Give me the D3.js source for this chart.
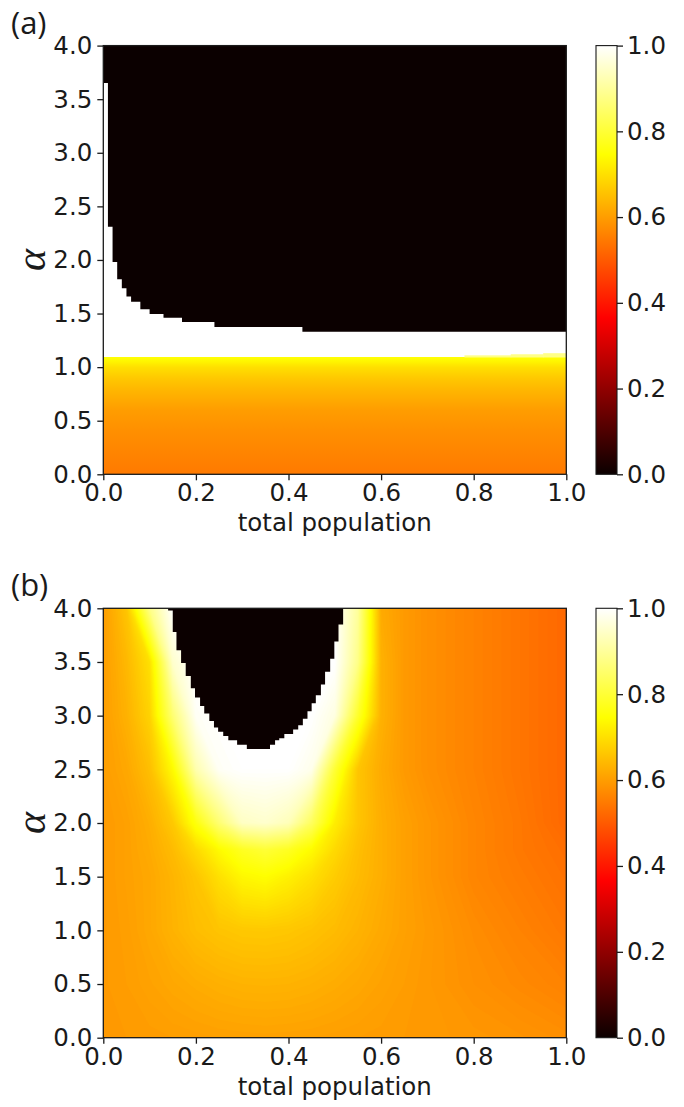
<!DOCTYPE html>
<html>
<head>
<meta charset="utf-8">
<script src="https://cdn.jsdelivr.net/npm/d3@7"></script>
<style>
  body { margin: 0; background: #fff; }
  svg text { font-family: "DejaVu Sans", sans-serif; fill: #1a1a1a; }
</style>
</head>
<body>
<div id="graph"></div>
<script>
// ---- values ----

// tick labels
var xTicks = [0, 0.2, 0.4, 0.6, 0.8, 1.0];
var alphaTicks = [0, 0.5, 1.0, 1.5, 2.0, 2.5, 3.0, 3.5, 4.0];
var barTicks = [0, 0.2, 0.4, 0.6, 0.8, 1.0];

// panel (a): value under the white band, by alpha (same for every x)
var aProfileAlpha = [0, 0.2, 0.4, 0.6, 0.8, 0.9, 1.0, 1.05, 1.09];
var aProfileValue = [0.548, 0.562, 0.578, 0.600, 0.640, 0.665, 0.700, 0.730, 0.750];
var aWhiteFrom = 1.095;             // value 1 from here up to the black region
// pale step under the white band on the right
var aPaleX = [0.78, 0.88, 0.95];    // step starts, last one runs to x = 1
var aPaleTop = [1.11, 1.12, 1.13];
var aPaleValue = 0.88;
// black region (value 0): column starts and the alpha where black begins
var aBlackX    = [0, 0.01, 0.02, 0.03, 0.04, 0.05, 0.06, 0.08, 0.10, 0.13, 0.17, 0.24, 0.43];
var aBlackFrom = [3.65, 2.31, 1.98, 1.82, 1.735, 1.66, 1.61, 1.54, 1.495, 1.46, 1.42, 1.375, 1.33];

// panel (b): value grid, columns at bX, one row per bAlpha
var bX     = [0, 0.05, 0.1, 0.15, 0.2, 0.25, 0.3, 0.35, 0.4, 0.45, 0.5, 0.55, 0.6, 0.65, 0.7, 0.8, 0.9, 1.0];
var bAlpha = [0, 0.5, 1.0, 1.5, 1.75, 2.0, 2.5, 3.0, 3.5, 4.0];
var bValues = [
  [0.595, 0.596, 0.598, 0.600, 0.602, 0.604, 0.605, 0.606, 0.605, 0.604, 0.602, 0.600, 0.598, 0.596, 0.594, 0.590, 0.585, 0.578], // 0.0
  [0.595, 0.600, 0.607, 0.615, 0.622, 0.628, 0.632, 0.633, 0.632, 0.628, 0.622, 0.615, 0.607, 0.600, 0.593, 0.580, 0.570, 0.560], // 0.5
  [0.595, 0.602, 0.615, 0.632, 0.648, 0.658, 0.664, 0.665, 0.662, 0.655, 0.645, 0.632, 0.618, 0.605, 0.595, 0.575, 0.560, 0.545], // 1.0
  [0.595, 0.605, 0.615, 0.635, 0.660, 0.700, 0.735, 0.745, 0.725, 0.700, 0.670, 0.645, 0.625, 0.605, 0.590, 0.565, 0.550, 0.535], // 1.5
  [0.595, 0.605, 0.620, 0.645, 0.690, 0.740, 0.780, 0.800, 0.780, 0.740, 0.690, 0.650, 0.625, 0.605, 0.590, 0.565, 0.545, 0.530], // 1.75
  [0.595, 0.605, 0.625, 0.665, 0.760, 0.860, 0.940, 0.950, 0.930, 0.840, 0.720, 0.660, 0.625, 0.605, 0.590, 0.565, 0.545, 0.520], // 2.0
  [0.600, 0.615, 0.650, 0.740, 0.920, 0.990, 1.000, 1.000, 1.000, 0.980, 0.800, 0.660, 0.620, 0.595, 0.580, 0.560, 0.540, 0.520], // 2.5
  [0.600, 0.630, 0.680, 0.860, 0.990, 1.000, 1.000, 1.000, 1.000, 1.000, 0.970, 0.790, 0.630, 0.595, 0.580, 0.560, 0.540, 0.520], // 3.0
  [0.600, 0.640, 0.700, 0.950, 1.000, 1.000, 1.000, 1.000, 1.000, 1.000, 1.000, 0.880, 0.630, 0.595, 0.580, 0.560, 0.540, 0.520], // 3.5
  [0.600, 0.660, 0.880, 1.000, 1.000, 1.000, 1.000, 1.000, 1.000, 1.000, 1.000, 0.900, 0.620, 0.595, 0.580, 0.560, 0.540, 0.520]  // 4.0
];
// black hole (value 0): edge steps going down from alpha 4
var bLeftX    = [0.140, 0.150, 0.158, 0.168, 0.178, 0.189, 0.198, 0.209, 0.218, 0.229, 0.239, 0.248, 0.259, 0.270, 0.289, 0.310];
var bLeftLow  = [3.98, 3.78, 3.61, 3.49, 3.37, 3.255, 3.17, 3.09, 3.02, 2.95, 2.89, 2.85, 2.81, 2.77, 2.73, 2.69];
var bRightX   = [0.518, 0.508, 0.499, 0.490, 0.479, 0.470, 0.459, 0.450, 0.441, 0.431, 0.421, 0.410, 0.391, 0.380, 0.371, 0.360];
var bRightLow = [3.85, 3.69, 3.53, 3.41, 3.29, 3.19, 3.115, 3.04, 2.97, 2.91, 2.87, 2.83, 2.79, 2.77, 2.73, 2.69];

// ---- layout ----
var W = 684, H = 1107;
var plotLeft = 103.3, plotRight = 566.3;
var barLeft = 596, barRight = 617;
var panels = [
  {tag: "(a)", top: 45.6, bottom: 474.3},
  {tag: "(b)", top: 608.3, bottom: 1037.7}
];
var fontSize = 24.5;
var ink = "#1a1a1a";

// matplotlib "hot" colour map, built from linear scales
var hotR = d3.scaleLinear().domain([0, 0.365079, 1]).range([0.0416, 1, 1]).clamp(true);
var hotG = d3.scaleLinear().domain([0, 0.365079, 0.746032, 1]).range([0, 0, 1, 1]).clamp(true);
var hotB = d3.scaleLinear().domain([0, 0.746032, 1]).range([0, 0, 1]).clamp(true);
function hot(v) {
  return d3.rgb(hotR(v) * 255, hotG(v) * 255, hotB(v) * 255).formatHex();
}

var svg = d3.select("#graph").append("svg")
  .attr("width", W)
  .attr("height", H)
  .style("display", "block");
var defs = svg.append("defs");

var xs = d3.scaleLinear().domain([0, 1]).range([plotLeft, plotRight]);
var line = d3.line();

panels.forEach(function (p, k) {
  var ys = d3.scaleLinear().domain([0, 4]).range([p.bottom, p.top]);
  var g = svg.append("g");

  defs.append("clipPath").attr("id", "clip" + k)
    .append("rect")
      .attr("x", plotLeft).attr("y", p.top)
      .attr("width", plotRight - plotLeft).attr("height", p.bottom - p.top);
  var plot = g.append("g").attr("clip-path", "url(#clip" + k + ")");

  if (k === 0) {
    // alpha profile as a vertical gradient
    var grad = defs.append("linearGradient").attr("id", "aprof")
      .attr("gradientUnits", "userSpaceOnUse")
      .attr("x1", 0).attr("x2", 0)
      .attr("y1", ys(0)).attr("y2", ys(4));
    aProfileAlpha.forEach(function (a, i) {
      grad.append("stop").attr("offset", a / 4).attr("stop-color", hot(aProfileValue[i]));
    });
    grad.append("stop").attr("offset", aWhiteFrom / 4).attr("stop-color", hot(1));
    grad.append("stop").attr("offset", 1).attr("stop-color", hot(1));

    plot.append("rect")
      .attr("x", plotLeft).attr("y", p.top)
      .attr("width", plotRight - plotLeft).attr("height", p.bottom - p.top)
      .attr("fill", "url(#aprof)");

    // pale steps under the white band
    plot.selectAll("rect.pale")
      .data(aPaleX)
      .enter().append("rect")
        .attr("class", "pale")
        .attr("x", function (d) { return xs(d); })
        .attr("width", function (d, i) { return xs(i + 1 < aPaleX.length ? aPaleX[i + 1] : 1) - xs(d) + 0.5; })
        .attr("y", function (d, i) { return ys(aPaleTop[i]); })
        .attr("height", function (d, i) { return ys(aProfileAlpha[aProfileAlpha.length - 1]) - ys(aPaleTop[i]); })
        .attr("fill", hot(aPaleValue));

    // black region, a staircase
    var pts = [[0, 4]];
    aBlackX.forEach(function (x0, i) {
      var x1 = i + 1 < aBlackX.length ? aBlackX[i + 1] : 1;
      pts.push([x0, aBlackFrom[i]]);
      pts.push([x1, aBlackFrom[i]]);
    });
    pts.push([1, 4]);
    plot.append("path")
      .attr("d", line(pts.map(function (d) { return [xs(d[0]), ys(d[1])]; })) + "Z")
      .attr("fill", hot(0));
  } else {
    // smooth field from the grid, drawn as filled contour bands
    var nx = bX.length, ny = bAlpha.length;
    var flat = [];
    bValues.forEach(function (row) { row.forEach(function (v) { flat.push(v); }); });
    var step = 0.004;
    var thresholds = d3.range(0.5, 1.0001, step);
    var bands = d3.contours().size([nx, ny]).thresholds(thresholds)(flat);

    var gx = d3.scaleLinear().domain(bX.map(function (d, i) { return i + 0.5; })).range(bX);
    var gy = d3.scaleLinear().domain(bAlpha.map(function (d, i) { return i + 0.5; })).range(bAlpha);
    var proj = d3.geoTransform({
      point: function (x, y) { this.stream.point(xs(gx(x)), ys(gy(y))); }
    });
    var path = d3.geoPath(proj);

    plot.append("rect")
      .attr("x", plotLeft).attr("y", p.top)
      .attr("width", plotRight - plotLeft).attr("height", p.bottom - p.top)
      .attr("fill", hot(d3.min(flat)));
    plot.selectAll("path.band")
      .data(bands)
      .enter().append("path")
        .attr("class", "band")
        .attr("d", path)
        .attr("fill", function (d) { return hot(d.value + step / 2); });

    // black hole, staircase down the left edge and back up the right
    var hole = [[bLeftX[0], 4]];
    bLeftX.forEach(function (x, i) {
      hole.push([x, bLeftLow[i]]);
      if (i + 1 < bLeftX.length) hole.push([bLeftX[i + 1], bLeftLow[i]]);
    });
    for (var i = bRightX.length - 1; i >= 0; i--) {
      hole.push([bRightX[i], bRightLow[i]]);
      hole.push([bRightX[i], i > 0 ? bRightLow[i - 1] : 4]);
    }
    plot.append("path")
      .attr("d", line(hole.map(function (d) { return [xs(d[0]), ys(d[1])]; })) + "Z")
      .attr("fill", hot(0));
  }

  // frame
  g.append("rect")
    .attr("x", plotLeft).attr("y", p.top)
    .attr("width", plotRight - plotLeft).attr("height", p.bottom - p.top)
    .attr("fill", "none").attr("stroke", ink).attr("stroke-width", 1.3);

  // axes
  var xAxis = g.append("g")
    .attr("transform", "translate(0," + p.bottom + ")")
    .call(d3.axisBottom(xs).tickValues(xTicks).tickFormat(d3.format(".1f")).tickSize(6).tickPadding(3.5));
  var yAxis = g.append("g")
    .attr("transform", "translate(" + plotLeft + ",0)")
    .call(d3.axisLeft(ys).tickValues(alphaTicks).tickFormat(d3.format(".1f")).tickSize(6).tickPadding(5));

  // colour bar
  var cs = d3.scaleLinear().domain([0, 1]).range([p.bottom, p.top]);
  var cgrad = defs.append("linearGradient").attr("id", "cbar" + k)
    .attr("x1", 0).attr("x2", 0).attr("y1", 1).attr("y2", 0);
  [0, 0.365079, 0.746032, 1].forEach(function (t) {
    cgrad.append("stop").attr("offset", t).attr("stop-color", hot(t));
  });
  g.append("rect")
    .attr("x", barLeft).attr("y", p.top)
    .attr("width", barRight - barLeft).attr("height", p.bottom - p.top)
    .attr("fill", "url(#cbar" + k + ")")
    .attr("stroke", ink).attr("stroke-width", 1.1);
  var cAxis = g.append("g")
    .attr("transform", "translate(" + barRight + ",0)")
    .call(d3.axisRight(cs).tickValues(barTicks).tickFormat(d3.format(".1f")).tickSize(6).tickPadding(4));

  [xAxis, yAxis, cAxis].forEach(function (a) {
    a.select(".domain").remove();
    a.selectAll(".tick line").attr("stroke", ink).attr("stroke-width", 1.3);
    a.selectAll(".tick text")
      .attr("fill", ink)
      .style("font-size", fontSize + "px")
      .style("font-family", "'DejaVu Sans', sans-serif");
  });

  // axis titles
  g.append("text")
    .attr("x", (plotLeft + plotRight) / 2)
    .attr("y", p.bottom + 57)
    .attr("text-anchor", "middle")
    .style("font-size", fontSize + "px")
    .text("total population");

  g.append("text")
    .attr("transform", "translate(31," + ((p.top + p.bottom) / 2) + ") rotate(-90)")
    .attr("text-anchor", "middle")
    .attr("dominant-baseline", "central")
    .style("font-family", "'Liberation Serif', serif")
    .style("font-style", "italic")
    .style("font-size", "42px")
    .text("α");

  // panel tag
  g.append("text")
    .attr("x", 11)
    .attr("y", p.top - 12)
    .style("font-family", "'Open Sans', sans-serif")
    .style("font-size", "31px")
    .text(p.tag);
});
</script>
</body>
</html>
